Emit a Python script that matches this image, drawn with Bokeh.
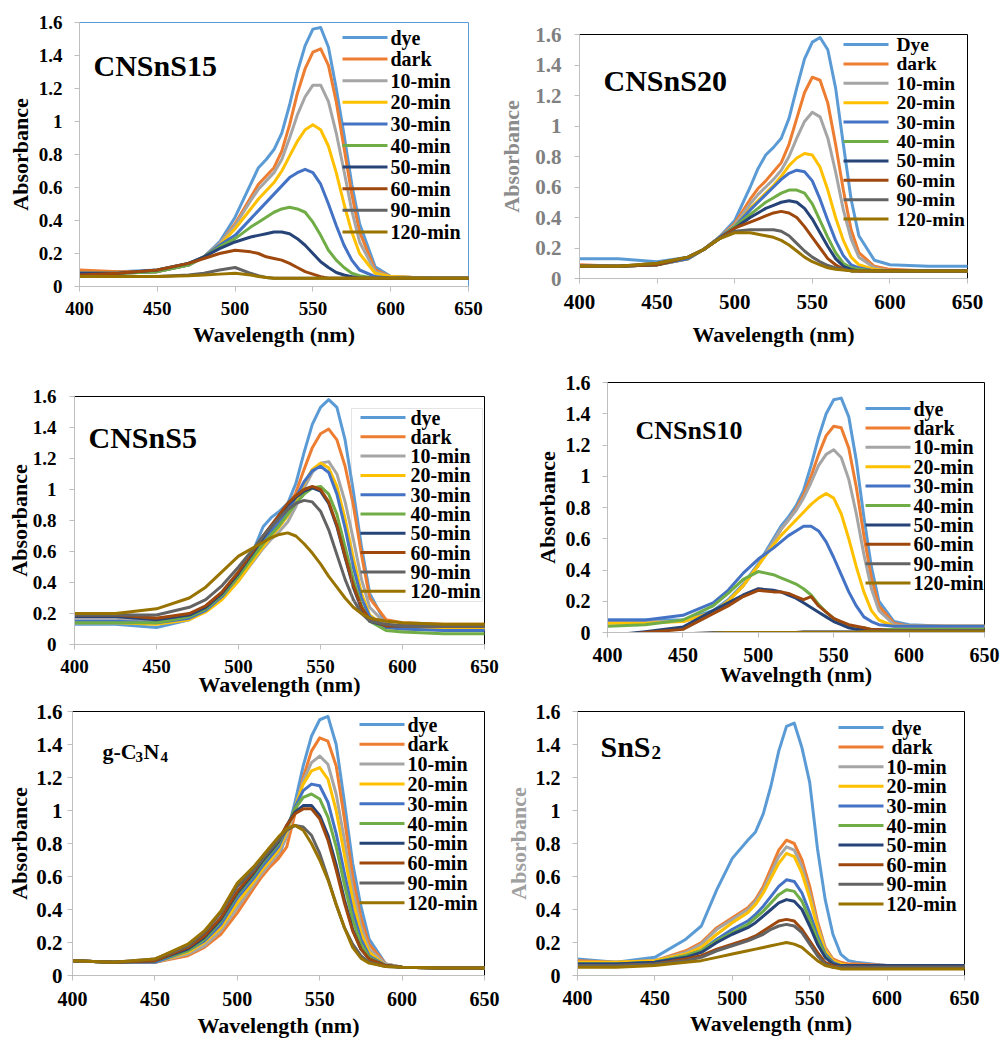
import math
from bokeh.plotting import figure
from bokeh.models import (Range1d, FixedTicker, CustomJSTickFormatter, Label,
                          BoxAnnotation)
from bokeh.layouts import row, column
from bokeh.embed import file_html
from bokeh.resources import INLINE

# ---------------- data ----------------
WL = [400, 425, 450, 470, 480, 490, 500, 510, 515, 520, 525, 530, 535, 540,
      545, 550, 555, 560, 565, 570, 575, 580, 590, 600, 625, 650]

SERIES = ["dye", "dark", "10-min", "20-min", "30-min", "40-min", "50-min",
          "60-min", "90-min", "120-min"]
SERIES_S20 = ["Dye", "dark", "10-min", "20-min", "30-min", "40-min", "50-min",
              "60-min", "90-min", "120-min"]
SERIES_SNS2 = ["\u00a0dye", "\u00a0dark", "10-min", "20-min", "30-min", "40-min",
               "50-min", "60-min", "90-min", "120-min"]

COLORS = ["#5B9BD5", "#ED7D31", "#A5A5A5", "#FFC000", "#4472C4", "#70AD47",
          "#264478", "#9E480E", "#636363", "#997300"]

X_TICKS = [400, 450, 500, 550, 600, 650]
Y_TICKS = [0, 0.2, 0.4, 0.6, 0.8, 1.0, 1.2, 1.4, 1.6]

CNSNS15 = [
    [0.09,0.09,0.10,0.14,0.18,0.27,0.42,0.62,0.72,0.77,0.83,0.93,1.10,1.30,1.46,1.56,1.57,1.45,1.20,0.92,0.62,0.38,0.12,0.06,0.05,0.05],
    [0.10,0.09,0.09,0.13,0.18,0.26,0.38,0.54,0.62,0.67,0.72,0.82,0.98,1.17,1.32,1.42,1.44,1.34,1.12,0.84,0.56,0.33,0.10,0.06,0.05,0.05],
    [0.08,0.08,0.09,0.13,0.18,0.26,0.37,0.52,0.59,0.64,0.69,0.77,0.90,1.04,1.15,1.22,1.22,1.12,0.93,0.70,0.46,0.27,0.09,0.06,0.05,0.05],
    [0.08,0.08,0.09,0.13,0.18,0.25,0.35,0.47,0.53,0.58,0.63,0.70,0.79,0.88,0.95,0.98,0.95,0.85,0.69,0.50,0.33,0.20,0.08,0.06,0.05,0.05],
    [0.08,0.08,0.09,0.13,0.18,0.25,0.31,0.41,0.46,0.51,0.56,0.61,0.66,0.69,0.71,0.69,0.62,0.50,0.37,0.25,0.16,0.10,0.06,0.05,0.05,0.05],
    [0.08,0.08,0.09,0.13,0.18,0.24,0.29,0.36,0.39,0.42,0.45,0.47,0.48,0.47,0.45,0.39,0.31,0.22,0.16,0.115,0.08,0.065,0.05,0.05,0.05,0.05],
    [0.08,0.08,0.10,0.14,0.18,0.23,0.27,0.30,0.31,0.32,0.33,0.33,0.32,0.29,0.25,0.20,0.15,0.115,0.085,0.07,0.06,0.05,0.05,0.05,0.05,0.05],
    [0.07,0.08,0.10,0.14,0.17,0.20,0.22,0.21,0.20,0.18,0.17,0.16,0.14,0.115,0.09,0.075,0.06,0.05,0.05,0.05,0.05,0.05,0.05,0.05,0.05,0.05],
    [0.06,0.06,0.06,0.07,0.08,0.10,0.115,0.08,0.065,0.055,0.05,0.05,0.05,0.05,0.05,0.05,0.05,0.05,0.05,0.05,0.05,0.05,0.05,0.05,0.05,0.05],
    [0.06,0.06,0.06,0.065,0.07,0.075,0.08,0.07,0.06,0.055,0.05,0.05,0.05,0.05,0.05,0.05,0.05,0.05,0.05,0.05,0.05,0.05,0.05,0.05,0.05,0.05],
]

CNSNS20 = [
    [0.13,0.13,0.11,0.14,0.19,0.27,0.38,0.60,0.72,0.81,0.86,0.92,1.05,1.25,1.44,1.55,1.58,1.50,1.25,0.88,0.52,0.28,0.12,0.09,0.08,0.08],
    [0.09,0.08,0.09,0.13,0.19,0.27,0.36,0.52,0.59,0.64,0.70,0.76,0.88,1.05,1.22,1.32,1.30,1.15,0.88,0.58,0.32,0.17,0.08,0.06,0.05,0.05],
    [0.08,0.08,0.09,0.13,0.19,0.27,0.35,0.49,0.55,0.60,0.65,0.71,0.80,0.92,1.03,1.09,1.06,0.92,0.70,0.45,0.26,0.14,0.07,0.05,0.05,0.05],
    [0.08,0.08,0.09,0.13,0.19,0.27,0.34,0.46,0.51,0.56,0.61,0.67,0.74,0.79,0.82,0.81,0.73,0.58,0.40,0.25,0.14,0.09,0.06,0.05,0.05,0.05],
    [0.08,0.08,0.09,0.13,0.19,0.27,0.34,0.45,0.50,0.55,0.60,0.65,0.69,0.71,0.70,0.64,0.52,0.38,0.25,0.15,0.09,0.07,0.05,0.05,0.05,0.05],
    [0.08,0.08,0.09,0.14,0.19,0.26,0.34,0.42,0.46,0.50,0.53,0.56,0.58,0.58,0.56,0.49,0.38,0.27,0.17,0.10,0.07,0.06,0.05,0.05,0.05,0.05],
    [0.08,0.08,0.09,0.14,0.19,0.26,0.33,0.40,0.43,0.46,0.48,0.50,0.51,0.50,0.46,0.39,0.30,0.21,0.13,0.08,0.06,0.05,0.05,0.05,0.05,0.05],
    [0.08,0.08,0.09,0.14,0.19,0.26,0.33,0.37,0.39,0.41,0.43,0.44,0.43,0.40,0.34,0.27,0.20,0.13,0.09,0.06,0.05,0.05,0.05,0.05,0.05,0.05],
    [0.08,0.08,0.10,0.14,0.19,0.26,0.31,0.32,0.32,0.32,0.32,0.31,0.28,0.23,0.18,0.14,0.11,0.085,0.07,0.06,0.05,0.05,0.05,0.05,0.05,0.05],
    [0.08,0.08,0.10,0.14,0.19,0.26,0.30,0.30,0.29,0.28,0.27,0.25,0.22,0.18,0.14,0.11,0.09,0.07,0.06,0.055,0.05,0.05,0.05,0.05,0.05,0.05],
]

CNSNS5 = [
    [0.13,0.13,0.11,0.16,0.22,0.31,0.44,0.63,0.76,0.82,0.86,0.91,1.04,1.24,1.42,1.53,1.58,1.53,1.32,0.99,0.63,0.33,0.13,0.11,0.10,0.10],
    [0.20,0.20,0.17,0.19,0.24,0.32,0.43,0.58,0.66,0.73,0.80,0.88,0.98,1.13,1.27,1.36,1.39,1.32,1.15,0.90,0.58,0.30,0.16,0.14,0.13,0.13],
    [0.17,0.17,0.15,0.17,0.22,0.30,0.41,0.55,0.62,0.68,0.73,0.79,0.89,1.01,1.11,1.17,1.18,1.10,0.92,0.68,0.42,0.24,0.13,0.12,0.11,0.11],
    [0.14,0.14,0.13,0.16,0.21,0.29,0.41,0.56,0.63,0.70,0.76,0.83,0.93,1.04,1.13,1.17,1.14,1.02,0.81,0.56,0.33,0.19,0.11,0.10,0.10,0.10],
    [0.15,0.15,0.14,0.17,0.22,0.31,0.44,0.60,0.67,0.73,0.79,0.86,0.95,1.05,1.12,1.15,1.11,0.97,0.75,0.50,0.30,0.18,0.11,0.10,0.09,0.09],
    [0.14,0.14,0.14,0.18,0.23,0.32,0.44,0.58,0.65,0.71,0.77,0.84,0.91,0.97,1.01,1.02,0.97,0.84,0.63,0.42,0.25,0.15,0.09,0.08,0.07,0.07],
    [0.18,0.18,0.16,0.19,0.24,0.33,0.46,0.61,0.69,0.76,0.83,0.90,0.95,0.99,1.01,0.99,0.91,0.76,0.56,0.37,0.23,0.15,0.12,0.12,0.12,0.12],
    [0.19,0.19,0.17,0.20,0.25,0.34,0.47,0.62,0.70,0.77,0.84,0.91,0.96,1.00,1.02,1.00,0.92,0.77,0.57,0.38,0.24,0.16,0.12,0.12,0.12,0.12],
    [0.19,0.19,0.19,0.24,0.29,0.38,0.50,0.63,0.70,0.76,0.82,0.87,0.91,0.93,0.92,0.86,0.74,0.58,0.42,0.29,0.20,0.15,0.13,0.12,0.12,0.12],
    [0.20,0.20,0.23,0.30,0.37,0.47,0.57,0.63,0.66,0.69,0.71,0.72,0.70,0.65,0.59,0.52,0.44,0.37,0.30,0.24,0.20,0.17,0.15,0.14,0.13,0.13],
]

CNSNS10 = [
    [0.08,0.08,0.08,0.14,0.21,0.31,0.44,0.60,0.68,0.74,0.81,0.91,1.07,1.25,1.40,1.49,1.50,1.38,1.10,0.74,0.42,0.20,0.07,0.05,0.04,0.04],
    [0.07,0.07,0.07,0.13,0.20,0.30,0.43,0.58,0.66,0.72,0.79,0.88,1.00,1.14,1.26,1.32,1.31,1.18,0.93,0.62,0.35,0.17,0.06,0.04,0.04,0.04],
    [0.07,0.07,0.07,0.13,0.20,0.30,0.43,0.58,0.66,0.72,0.78,0.86,0.96,1.07,1.14,1.17,1.12,0.98,0.76,0.50,0.28,0.14,0.05,0.04,0.04,0.04],
    [0.06,0.06,0.07,0.13,0.20,0.30,0.43,0.56,0.62,0.67,0.72,0.77,0.82,0.86,0.89,0.86,0.76,0.60,0.42,0.26,0.14,0.08,0.04,0.04,0.04,0.04],
    [0.08,0.08,0.11,0.19,0.27,0.38,0.47,0.54,0.58,0.62,0.65,0.68,0.68,0.65,0.58,0.48,0.37,0.26,0.17,0.10,0.07,0.05,0.04,0.04,0.04,0.04],
    [0.04,0.05,0.08,0.17,0.25,0.34,0.39,0.37,0.35,0.33,0.31,0.28,0.24,0.18,0.13,0.09,0.06,0.04,0.03,0.03,0.02,0.02,0.02,0.02,0.02,0.02],
    [-0.02,0.005,0.035,0.14,0.19,0.24,0.28,0.27,0.26,0.24,0.22,0.19,0.16,0.13,0.10,0.07,0.05,0.03,0.02,0.02,0.01,0.01,0.01,0.01,0.01,0.01],
    [-0.03,0.0,0.02,0.12,0.17,0.23,0.27,0.26,0.26,0.25,0.23,0.21,0.23,0.17,0.13,0.09,0.07,0.05,0.04,0.03,0.02,0.02,0.01,0.01,0.01,0.01],
    [-0.03,-0.02,-0.01,0.0,0.0,0.0,0.0,0.0,0.0,0.0,0.0,0.005,0.005,0.005,0.005,0.005,0.005,0.005,0.005,0.005,0.01,0.01,0.01,0.01,0.01,0.01],
    [-0.03,-0.02,-0.01,-0.005,0.0,0.0,0.0,0.0,0.0,0.0,0.0,0.0,0.0,0.0,0.0,0.0,0.0,0.0,0.0,0.005,0.005,0.005,0.005,0.005,0.005,0.005],
]

GC3N4 = [
    [0.09,0.08,0.08,0.13,0.18,0.27,0.42,0.55,0.62,0.67,0.72,0.85,1.05,1.27,1.45,1.55,1.57,1.40,1.05,0.68,0.42,0.22,0.07,0.05,0.045,0.045],
    [0.09,0.08,0.08,0.12,0.17,0.25,0.38,0.53,0.60,0.66,0.71,0.78,0.98,1.20,1.36,1.44,1.42,1.27,0.95,0.60,0.35,0.19,0.07,0.05,0.045,0.045],
    [0.09,0.08,0.08,0.13,0.18,0.27,0.41,0.55,0.62,0.68,0.74,0.84,1.01,1.18,1.29,1.33,1.28,1.10,0.82,0.52,0.30,0.16,0.07,0.05,0.045,0.045],
    [0.09,0.08,0.08,0.14,0.20,0.29,0.44,0.57,0.64,0.70,0.76,0.87,1.02,1.16,1.24,1.26,1.19,1.00,0.73,0.46,0.26,0.14,0.06,0.05,0.045,0.045],
    [0.09,0.08,0.08,0.15,0.21,0.31,0.47,0.59,0.66,0.72,0.78,0.89,1.02,1.12,1.16,1.15,1.05,0.86,0.62,0.39,0.22,0.12,0.06,0.05,0.045,0.045],
    [0.09,0.08,0.09,0.15,0.22,0.33,0.49,0.61,0.68,0.74,0.80,0.90,1.01,1.08,1.10,1.07,0.96,0.78,0.55,0.34,0.19,0.11,0.06,0.05,0.045,0.045],
    [0.09,0.08,0.09,0.16,0.23,0.34,0.50,0.62,0.69,0.75,0.81,0.91,0.99,1.03,1.03,0.97,0.85,0.67,0.46,0.28,0.16,0.10,0.06,0.05,0.045,0.045],
    [0.09,0.08,0.09,0.17,0.24,0.35,0.51,0.63,0.70,0.76,0.82,0.91,0.98,1.01,1.01,0.95,0.82,0.64,0.44,0.27,0.16,0.10,0.06,0.05,0.045,0.045],
    [0.09,0.08,0.10,0.18,0.26,0.38,0.54,0.64,0.70,0.76,0.82,0.88,0.91,0.90,0.85,0.74,0.59,0.43,0.29,0.19,0.12,0.08,0.055,0.05,0.045,0.045],
    [0.09,0.08,0.10,0.19,0.27,0.39,0.56,0.66,0.72,0.78,0.84,0.89,0.91,0.88,0.80,0.70,0.58,0.43,0.29,0.17,0.105,0.075,0.055,0.05,0.045,0.045],
]

SNS2 = [
    [0.10,0.08,0.11,0.22,0.30,0.52,0.71,0.82,0.87,0.98,1.15,1.36,1.51,1.53,1.38,1.17,0.77,0.46,0.25,0.13,0.09,0.08,0.07,0.06,0.06,0.06],
    [0.09,0.08,0.09,0.15,0.20,0.29,0.35,0.41,0.46,0.54,0.65,0.76,0.82,0.80,0.70,0.54,0.33,0.17,0.10,0.08,0.07,0.07,0.065,0.06,0.06,0.06],
    [0.08,0.08,0.09,0.14,0.19,0.28,0.34,0.40,0.45,0.52,0.62,0.72,0.78,0.76,0.66,0.50,0.31,0.16,0.09,0.07,0.06,0.06,0.06,0.06,0.06,0.06],
    [0.08,0.08,0.09,0.13,0.17,0.25,0.32,0.38,0.43,0.50,0.59,0.68,0.74,0.72,0.62,0.47,0.29,0.15,0.09,0.07,0.06,0.06,0.06,0.06,0.06,0.06],
    [0.07,0.07,0.08,0.12,0.15,0.22,0.28,0.33,0.37,0.42,0.48,0.54,0.58,0.57,0.50,0.38,0.24,0.13,0.08,0.06,0.06,0.06,0.06,0.06,0.06,0.06],
    [0.07,0.07,0.08,0.12,0.15,0.21,0.26,0.31,0.35,0.39,0.44,0.49,0.52,0.51,0.45,0.34,0.22,0.12,0.07,0.06,0.06,0.06,0.06,0.06,0.06,0.06],
    [0.07,0.07,0.08,0.11,0.14,0.20,0.25,0.29,0.32,0.36,0.40,0.44,0.46,0.45,0.40,0.30,0.19,0.11,0.07,0.06,0.06,0.06,0.06,0.06,0.06,0.06],
    [0.06,0.06,0.07,0.10,0.12,0.16,0.19,0.22,0.24,0.27,0.30,0.33,0.34,0.33,0.28,0.21,0.14,0.08,0.06,0.05,0.05,0.05,0.05,0.05,0.05,0.05],
    [0.06,0.06,0.07,0.09,0.11,0.15,0.18,0.21,0.23,0.25,0.28,0.30,0.31,0.30,0.26,0.19,0.12,0.07,0.05,0.05,0.05,0.05,0.05,0.05,0.05,0.05],
    [0.05,0.05,0.06,0.08,0.09,0.11,0.13,0.15,0.16,0.17,0.18,0.19,0.20,0.19,0.17,0.13,0.09,0.06,0.05,0.04,0.04,0.04,0.04,0.04,0.04,0.04],
]

FONT = "Liberation Serif"

# layout (page pixels): origin, size, frame (left, top, right, bottom)
PANELS = [
    dict(data=CNSNS15, labels=SERIES, origin=(0, 0), size=(492, 350),
         frame=(79, 22, 468, 286), outline="#5B9BD5",
         titles=[("CNSnS15", 93, 65, 30)], xlabel="Wavelength (nm)",
         xt=(19, 10, 4), yt=(19, 12, 3), ytick_color="black", ylab_color="black",
         leg=(342, 390, 37, 21.6, 20), box=None),
    dict(data=CNSNS20, labels=SERIES_S20, origin=(492, 0), size=(508, 350),
         frame=(579, 34, 967, 278), outline="black",
         titles=[("CNSnS20", 603, 80, 30)], xlabel="Wavelength (nm)",
         xt=(21, 11, 10), yt=(21, 13, 8), ytick_color="#808080", ylab_color="#8C8C8C",
         leg=(843, 896, 44, 19.4, 19.5), box=None),
    dict(data=CNSNS5, labels=SERIES, origin=(0, 350), size=(500, 349),
         frame=(74, 396, 484, 644), outline="black",
         titles=[("CNSnS5", 88, 437, 30)], xlabel="Wavelength (nm)",
         xt=(19, 10, -4), yt=(19, 13, -2), ytick_color="black", ylab_color="black",
         leg=(360, 410, 417, 19.3, 20), box=(351, 408, 482, 601)),
    dict(data=CNSNS10, labels=SERIES, origin=(500, 350), size=(500, 349),
         frame=(607, 382, 984, 632), outline="black",
         titles=[("CNSnS10", 635, 430, 26)], xlabel="Wavelngth (nm)",
         xt=(20, 10, -3), yt=(20, 12, 3), ytick_color="black", ylab_color="black",
         leg=(865, 913, 408, 19.4, 20), box=None),
    dict(data=GC3N4, labels=SERIES, origin=(0, 699), size=(500, 341),
         frame=(72, 711, 484, 976), outline="black",
         titles=[("g-C", 102, 752, 22), ("3", 135, 757, 15),
                 ("N", 143, 752, 22), ("4", 160, 757, 15)],
         xlabel="Wavelength (nm)",
         xt=(20, 11, 4), yt=(21, 5, 1), ytick_color="black", ylab_color="black",
         leg=(359, 407, 725, 19.8, 20), box=None),
    dict(data=SNS2, labels=SERIES_SNS2, origin=(500, 699), size=(500, 341),
         frame=(577, 711, 964, 975), outline="black",
         titles=[("SnS", 600, 746, 30), ("2", 651, 752, 19)],
         xlabel="Wavelength (nm)",
         xt=(20, 10, 3), yt=(20, 12, 2), ytick_color="black", ylab_color="#A0A0A0",
         leg=(838, 886, 727, 19.6, 20), box=None),
]


def text_label(x, y, text, size, color="black", align="left",
               baseline="alphabetic"):
    return Label(x=x, y=y, x_units="screen", y_units="screen", text=text,
                 text_font=FONT, text_font_style="bold",
                 text_font_size="%spx" % size, text_color=color,
                 text_align=align, text_baseline=baseline)


def build(cfg):
    ox, oy = cfg["origin"]
    w, h = cfg["size"]
    fl, ft, fr, fb = cfg["frame"]
    p = figure(width=w, height=h, output_backend="svg", toolbar_location=None,
               x_range=Range1d(400, 650), y_range=Range1d(0, 1.6),
               min_border_left=fl - ox, min_border_right=ox + w - fr,
               min_border_top=ft - oy, min_border_bottom=oy + h - fb)
    p.title.visible = False
    p.background_fill_color = "white"
    p.border_fill_color = "white"
    p.xgrid.visible = False
    p.ygrid.visible = False
    p.outline_line_color = cfg["outline"]
    p.outline_line_width = 1

    for col, ys in zip(COLORS, cfg["data"]):
        p.line(WL, ys, line_color=col, line_width=3, line_join="round",
               line_cap="round")

    fmt = CustomJSTickFormatter(code="return Number(tick.toFixed(1)).toString();")
    for ax in (p.xaxis[0], p.yaxis[0]):
        ax.axis_line_color = "#BFBFBF"
        ax.major_tick_line_color = "#BFBFBF"
        ax.major_tick_out = 5
        ax.major_tick_in = 0
        ax.minor_tick_line_color = None
        ax.major_label_text_font = FONT
        ax.major_label_text_font_style = "bold"
        ax.axis_label_text_font = FONT
        ax.axis_label_text_font_style = "bold"
        ax.axis_label_text_font_size = "22px"
        ax.formatter = fmt
    p.xaxis.ticker = FixedTicker(ticks=X_TICKS)
    p.yaxis.ticker = FixedTicker(ticks=Y_TICKS)

    xs, xstand, xlab = cfg["xt"]
    ysz, ystand, ylab = cfg["yt"]
    p.xaxis.major_label_text_font_size = "%dpx" % xs
    p.yaxis.major_label_text_font_size = "%dpx" % ysz
    p.xaxis.major_label_text_color = "black"
    p.yaxis.major_label_text_color = cfg["ytick_color"]
    p.xaxis.major_label_standoff = xstand
    p.yaxis.major_label_standoff = ystand
    p.xaxis.axis_label = cfg["xlabel"]
    p.yaxis.axis_label = "Absorbance"
    p.xaxis.axis_label_standoff = xlab
    p.yaxis.axis_label_standoff = ylab
    p.xaxis.axis_label_text_color = "black"
    p.yaxis.axis_label_text_color = cfg["ylab_color"]

    # legend: line swatch + label per series, stacked from the top entry
    lx, tx, cy0, pitch, fsize = cfg["leg"]
    for i, (lab, col) in enumerate(zip(cfg["labels"], COLORS)):
        cy = cy0 + i * pitch
        p.add_layout(BoxAnnotation(left=lx - fl, right=lx + 45 - fl,
                                   top=fb - cy + 1.5, bottom=fb - cy - 1.5,
                                   left_units="screen", right_units="screen",
                                   top_units="screen", bottom_units="screen",
                                   fill_color=col, fill_alpha=1,
                                   line_color=None))
        p.add_layout(text_label(tx - fl, fb - cy, lab, fsize,
                                baseline="middle"))
    if cfg["box"]:
        bx0, by0, bx1, by1 = cfg["box"]
        p.add_layout(BoxAnnotation(left=bx0 - fl, right=bx1 - fl,
                                   top=fb - by0, bottom=fb - by1,
                                   left_units="screen", right_units="screen",
                                   top_units="screen", bottom_units="screen",
                                   fill_alpha=0, line_color="#A6A6A6",
                                   line_width=1))

    for text, tx_, tyb, size in cfg["titles"]:
        p.add_layout(text_label(tx_ - fl, fb - tyb, text, size))
    return p


figs = [build(c) for c in PANELS]
layout = column(
    row(column(figs[0]), column(figs[1])),
    row(column(figs[2]), column(figs[3])),
    row(column(figs[4]), column(figs[5])),
)

open("out.html", "w").write(file_html(layout, INLINE))
